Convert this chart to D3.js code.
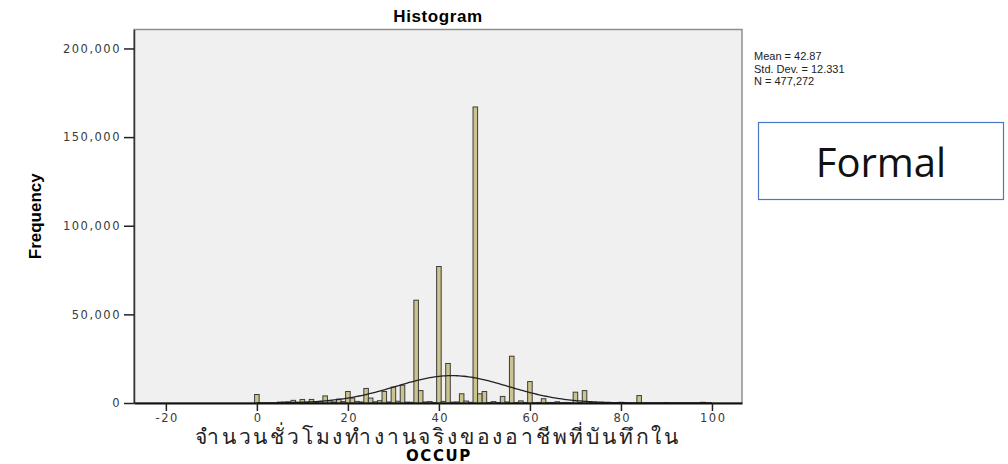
<!DOCTYPE html>
<html>
<head>
<meta charset="utf-8">
<script src="https://cdn.jsdelivr.net/npm/d3@7"></script>
<style>
  body { margin: 0; background: #fff; }
  svg { display: block; }
</style>
</head>
<body>
<div id="chart"></div>
<script>
// hours worked (bin centre) and frequency
const hours = [0, 5, 6, 7, 8, 9, 10, 11, 12, 13, 14, 15, 16, 17, 18, 19, 20, 21, 22, 23,
  24, 25, 26, 27, 28, 29, 30, 31, 32, 33, 34, 35, 36, 37, 38, 39, 40, 41, 42, 43, 44, 45,
  46, 47, 48, 49, 50, 51, 52, 53, 54, 55, 56, 57, 58, 59, 60, 61, 62, 63, 64, 65, 66, 67,
  68, 69, 70, 71, 72, 73, 74, 75, 77, 78, 80, 84, 90, 98];
const freq = [4800, 500, 600, 700, 1500, 400, 2000, 500, 2000, 300, 800, 4000, 1200, 600, 2200, 800, 6500, 2800, 900, 600,
  8200, 2800, 700, 1300, 6500, 600, 9000, 1000, 10000, 500, 400, 58000, 7000, 600, 800, 300, 77000, 900, 22300, 500, 600, 5200,
  1100, 400, 167000, 5200, 6500, 300, 800, 300, 3700, 600, 26400, 300, 1200, 300, 12100, 200, 300, 2400, 300, 300, 700, 200,
  300, 200, 6100, 300, 7000, 200, 200, 300, 200, 200, 400, 4200, 200, 400];

const xTicks = [-20, 0, 20, 40, 60, 80, 100];
const yTicks = [0, 50000, 100000, 150000, 200000];
const stats = { mean: 42.87, sd: 12.331, n: 477272 };
const statLines = ["Mean = 42.87", "Std. Dev. = 12.331", "N = 477,272"];

const W = 1008, H = 464;
const plot = { left: 134, right: 742, top: 29.5, bottom: 403 };

const svg = d3.select("#chart").append("svg")
    .attr("width", W)
    .attr("height", H);

const x = d3.scaleLinear().domain([-27, 106.6]).range([plot.left, plot.right]);
const y = d3.scaleLinear().domain([0, 210700]).range([plot.bottom, plot.top]);

// plot background + frame
svg.append("rect")
    .attr("x", plot.left)
    .attr("y", plot.top)
    .attr("width", plot.right - plot.left)
    .attr("height", plot.bottom - plot.top)
    .attr("fill", "#f0f0f0")
    .attr("stroke", "#8e8e8e")
    .attr("stroke-width", 1.5);

// bars, one unit wide, centred on each value
svg.append("g").selectAll("rect")
    .data(hours.map((h, i) => ({ h, f: freq[i] })))
    .join("rect")
    .attr("x", d => x(d.h - 0.5))
    .attr("y", d => y(d.f))
    .attr("width", d => x(d.h + 0.5) - x(d.h - 0.5))
    .attr("height", d => y(0) - y(d.f))
    .attr("fill", "#cbc48d")
    .attr("stroke", "#3c3c3c")
    .attr("stroke-width", 1);

// fitted normal curve from the printed mean / sd / N (bin width 1)
const pdf = v => stats.n / (stats.sd * Math.sqrt(2 * Math.PI)) *
    Math.exp(-0.5 * Math.pow((v - stats.mean) / stats.sd, 2));
const line = d3.line()
    .x(d => x(d))
    .y(d => y(pdf(d)));
svg.append("path")
    .datum(d3.range(0, 100.01, 0.5))
    .attr("d", line)
    .attr("fill", "none")
    .attr("stroke", "#222")
    .attr("stroke-width", 1.3);

// axes
const tickFont = "'DejaVu Sans', sans-serif";
const yAxis = svg.append("g")
    .attr("transform", `translate(${plot.left},0)`)
    .call(d3.axisLeft(y).tickValues(yTicks).tickSize(10).tickSizeOuter(0).tickPadding(3).tickFormat(d3.format(",")));
const xAxis = svg.append("g")
    .attr("transform", `translate(0,${plot.bottom})`)
    .call(d3.axisBottom(x).tickValues(xTicks).tickSize(8).tickSizeOuter(0).tickPadding(3)
        .tickFormat(d => String(d)));

yAxis.select(".domain").attr("stroke", "#333").attr("stroke-width", 1.5);
xAxis.select(".domain").attr("stroke", "#111").attr("stroke-width", 2);
[yAxis, xAxis].forEach(a => {
    a.selectAll(".tick line").attr("stroke", "#222").attr("stroke-width", 1.5);
    a.selectAll(".tick text")
        .attr("fill", "#3a3a3a")
        .style("font-family", tickFont)
        .style("font-size", "11.5px")
        .style("letter-spacing", "1.5px");
});
xAxis.selectAll(".tick text").attr("dx", "0.8px");

// title
svg.append("text")
    .attr("x", (plot.left + plot.right) / 2)
    .attr("y", 22)
    .attr("text-anchor", "middle")
    .style("font-family", "'Liberation Sans', Arial, sans-serif")
    .style("font-weight", "bold")
    .style("font-size", "17px")
    .style("letter-spacing", "0.6px")
    .text("Histogram");

// y label
svg.append("text")
    .attr("transform", `translate(41,${(plot.top + plot.bottom) / 2}) rotate(-90)`)
    .attr("text-anchor", "middle")
    .style("font-family", "'Liberation Sans Narrow', 'Liberation Sans', sans-serif")
    .style("font-stretch", "condensed")
    .style("font-weight", "bold")
    .style("font-size", "17px")
    .text("Frequency");

// x label (two lines)
svg.append("text")
    .attr("x", (plot.left + plot.right) / 2)
    .attr("y", 444)
    .attr("text-anchor", "middle")
    .style("font-family", "'DejaVu Sans', 'Noto Sans', sans-serif")
    .style("font-size", "21px")
    .style("letter-spacing", "2.8px")
    .attr("fill", "#222")
    .text("จำนวนชั่วโมงทำงานจริงของอาชีพที่บันทึกใน");
svg.append("text")
    .attr("x", (plot.left + plot.right) / 2 + 1)
    .attr("y", 461)
    .attr("text-anchor", "middle")
    .style("font-family", "'DejaVu Sans', sans-serif")
    .style("font-weight", "bold")
    .style("font-size", "15px")
    .style("letter-spacing", "1.6px")
    .text("OCCUP");

// stats block
svg.append("g").selectAll("text")
    .data(statLines)
    .join("text")
    .attr("x", 754)
    .attr("y", (d, i) => 60 + i * 12.5)
    .style("font-family", "'Liberation Sans', Arial, sans-serif")
    .style("font-size", "11px")
    .attr("fill", "#222")
    .text(d => d);

// "Formal" label box
svg.append("rect")
    .attr("x", 758.5)
    .attr("y", 122.5)
    .attr("width", 245)
    .attr("height", 77)
    .attr("fill", "#fff")
    .attr("stroke", "#4a76c6")
    .attr("stroke-width", 1.2);
svg.append("text")
    .attr("x", 881)
    .attr("y", 177)
    .attr("text-anchor", "middle")
    .style("font-family", "'Open Sans', 'Liberation Sans', sans-serif")
    .style("font-size", "40px")
    .attr("fill", "#111")
    .text("Formal");
</script>
</body>
</html>
